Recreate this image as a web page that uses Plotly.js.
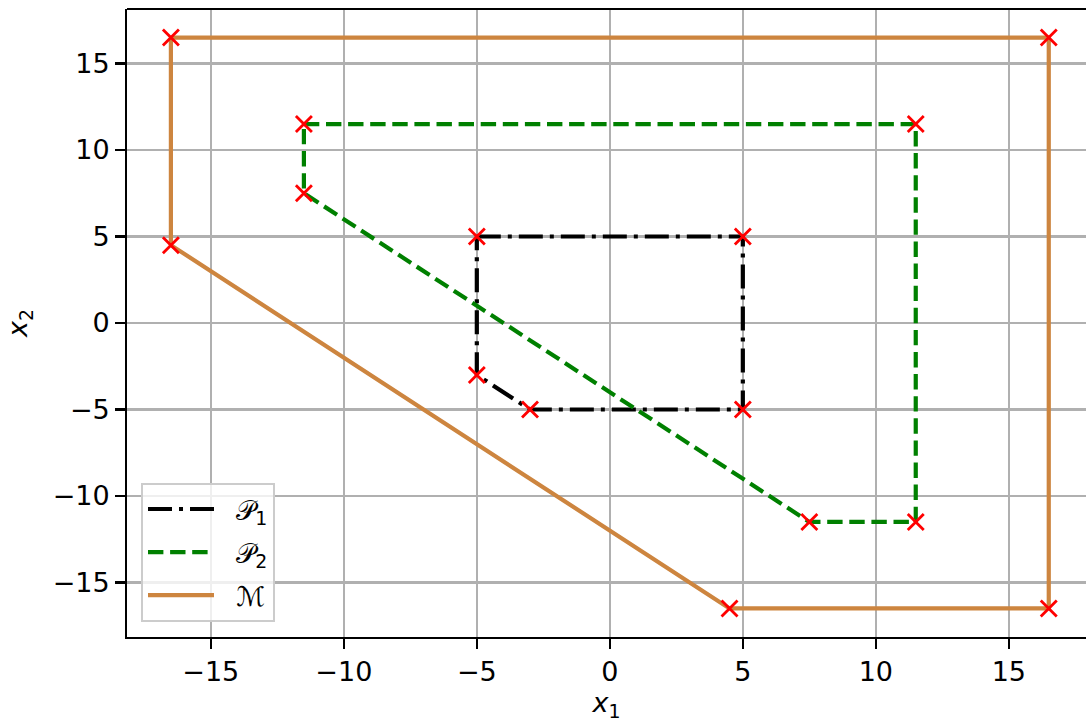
<!DOCTYPE html>
<html>
<head>
<meta charset="utf-8">
<script src="https://cdn.plot.ly/plotly-3.0.1.min.js"></script>
<style>
  html, body { margin: 0; padding: 0; background: #fff; overflow: hidden; }
  #chart { width: 1086px; height: 722px; }
</style>
</head>
<body>
<div id="chart"></div>
<script>
// Polygon vertices (closed by repeating the first vertex)
const p1X = [-5, 5, 5, -3, -5, -5];
const p1Y = [5, 5, -5, -5, -3, 5];

const p2X = [-11.5, 11.5, 11.5, 7.5, -11.5, -11.5];
const p2Y = [11.5, 11.5, -11.5, -11.5, 7.5, 11.5];

const mX = [-16.5, 16.5, 16.5, 4.5, -16.5, -16.5];
const mY = [16.5, 16.5, -16.5, -16.5, 4.5, 16.5];

const seriesNames = ['𝒫<sub>1</sub>', '𝒫<sub>2</sub>', 'ℳ'];
const tickVals = [-15, -10, -5, 0, 5, 10, 15];

const FONT = 'DejaVu Sans, sans-serif';

function lineTrace(x, y, name, color, dash, group) {
  return {
    x: x, y: y, name: '\u00a0\u00a0' + name, type: 'scatter', mode: 'lines',
    legendgroup: group,
    line: { color: color, width: 4.2, dash: dash },
    hoverinfo: 'skip'
  };
}

function vertexTrace(x, y) {
  return {
    x: x.slice(0, -1), y: y.slice(0, -1), type: 'scatter', mode: 'markers',
    showlegend: false, hoverinfo: 'skip',
    marker: { symbol: 'x-thin', size: 16, color: 'red', line: { color: 'red', width: 2.8 } }
  };
}

const traces = [
  lineTrace(p1X, p1Y, seriesNames[0], 'black', '24px,7px,4px,7px', 'p1'),
  lineTrace(p2X, p2Y, seriesNames[1], 'green', '15.4px,6.7px', 'p2'),
  lineTrace(mX, mY, seriesNames[2], 'peru', 'solid', 'm'),
  vertexTrace(p1X, p1Y),
  vertexTrace(p2X, p2Y),
  vertexTrace(mX, mY)
];

const axisCommon = {
  tickvals: tickVals,
  ticks: 'outside', ticklen: 9.7, tickwidth: 2.2, tickcolor: 'black',
  showgrid: true, gridcolor: '#b0b0b0', gridwidth: 2.2,
  zeroline: false,
  showline: true, linecolor: 'black', linewidth: 2.2, mirror: false,
  tickfont: { family: FONT, size: 27, color: 'black' }
};

const layout = {
  width: 1086, height: 722,
  margin: { l: 127, r: 0, t: 9, b: 85 },
  paper_bgcolor: 'white', plot_bgcolor: 'white',
  font: { family: FONT, color: 'black' },
  xaxis: Object.assign({}, axisCommon, {
    range: [-18.15, 17.9],
    title: { text: '<i>x</i><sub>1</sub>', font: { family: FONT, size: 27 }, standoff: 8 }
  }),
  yaxis: Object.assign({}, axisCommon, {
    range: [-18.15, 18.15],
    title: { text: '<i>x</i><sub>2</sub>', font: { family: FONT, size: 27 }, standoff: 17 }
  }),
  shapes: [{
    type: 'line', xref: 'paper', yref: 'paper', x0: 0, x1: 1, y0: 1, y1: 1,
    line: { color: 'black', width: 2.2 }, layer: 'above'
  }],
  legend: {
    x: 0.0146, y: 0.024, xanchor: 'left', yanchor: 'bottom',
    bgcolor: 'rgba(255,255,255,0.8)', bordercolor: '#cccccc', borderwidth: 2,
    font: { family: FONT, size: 27, color: 'black' },
    itemwidth: 66, tracegroupgap: 5
  },
  showlegend: true
};

Plotly.newPlot('chart', traces, layout, { displayModeBar: false, staticPlot: true });
</script>
</body>
</html>
